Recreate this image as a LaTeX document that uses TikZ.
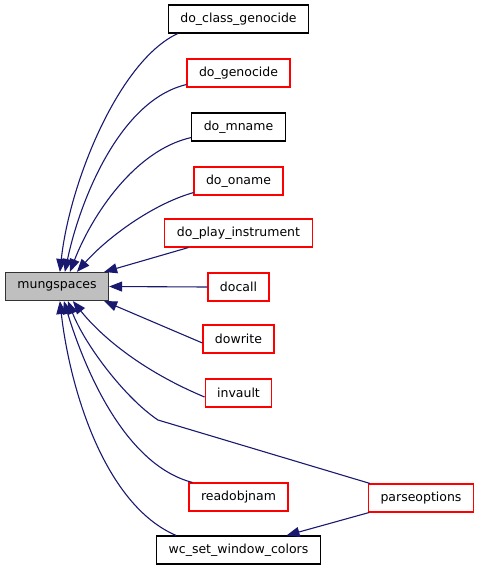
\documentclass[tikz,border=0pt]{standalone}
\usepackage{fontspec}
\setmainfont{DejaVu Sans}
\usetikzlibrary{arrows.meta,positioning,calc}
\definecolor{edgeblue}{RGB}{25,25,112}
\definecolor{nodegray}{RGB}{191,191,191}

\begin{document}
\begin{tikzpicture}[x=1pt,y=-1pt,line width=1.1pt,
  font=\fontsize{12.5}{15}\selectfont,
  fn/.style={draw,minimum height=28pt,inner xsep=12pt,inner ysep=0pt},
  call/.style={draw=edgeblue,{Triangle[length=13pt,width=10pt]}-}]
\useasboundingbox (0,0) rectangle (480,571);
\node[fn,fill=nodegray,draw=black!80] (mung) at (57,286.5) {mungspaces};
\foreach \n/\t/\y/\c in {cg/do\_class\_genocide/19/black,gen/do\_genocide/73/red,
  mn/do\_mname/127/black,on/do\_oname/181/red,pi/do\_play\_instrument/233/red,
  dc/docall/287/red,dw/dowrite/339/red,iv/invault/393/red,ro/readobjnam/497/red,
  wc/wc\_set\_window\_colors/550/black}{
 \node[fn,draw=\c] (\n) at (238.5,\y) {\t};
}
\node[fn,draw=red] (po) at (421,498) {parseoptions};
\coordinate (bend) at (158,420);
% callers above
\draw[call] ([xshift=55pt]mung.north west) .. controls (70,180) and (120,60) .. ([xshift=10pt]cg.south west);
\draw[call] ([xshift=60pt]mung.north west) .. controls (80,200) and (120,100) .. ([yshift=3pt]gen.south west);
\draw[call] ([xshift=65pt]mung.north west) .. controls (92,215) and (135,150) .. ([yshift=4pt]mn.south west);
\draw[call] ([xshift=72pt]mung.north west) .. controls (105,240) and (150,205) .. ([yshift=3pt]on.south west);
\draw[call] ([xshift=-5pt]mung.north east) -- ([xshift=24pt]pi.south west);
\draw[call] (mung.east) -- (dc.west);
% callers below
\draw[call] ([xshift=-5pt]mung.south east) -- ([yshift=-4pt]dw.west);
\draw[call] ([xshift=68pt]mung.south west) .. controls (100,335) and (140,370) .. ([yshift=-4pt]iv.west);
\draw[call] ([xshift=63pt]mung.south west) .. controls (85,345) and (125,398) .. (bend) -- ([xshift=2pt]po.north west);
\draw[call] ([xshift=59pt]mung.south west) .. controls (85,370) and (125,465) .. ([xshift=4pt]ro.north west);
\draw[call] ([xshift=55pt]mung.south west) .. controls (70,390) and (105,505) .. ([xshift=20pt]wc.north west);
\draw[call] ([xshift=48pt]wc.north) -- ([xshift=1pt]po.south west);
\end{tikzpicture}
\end{document}
